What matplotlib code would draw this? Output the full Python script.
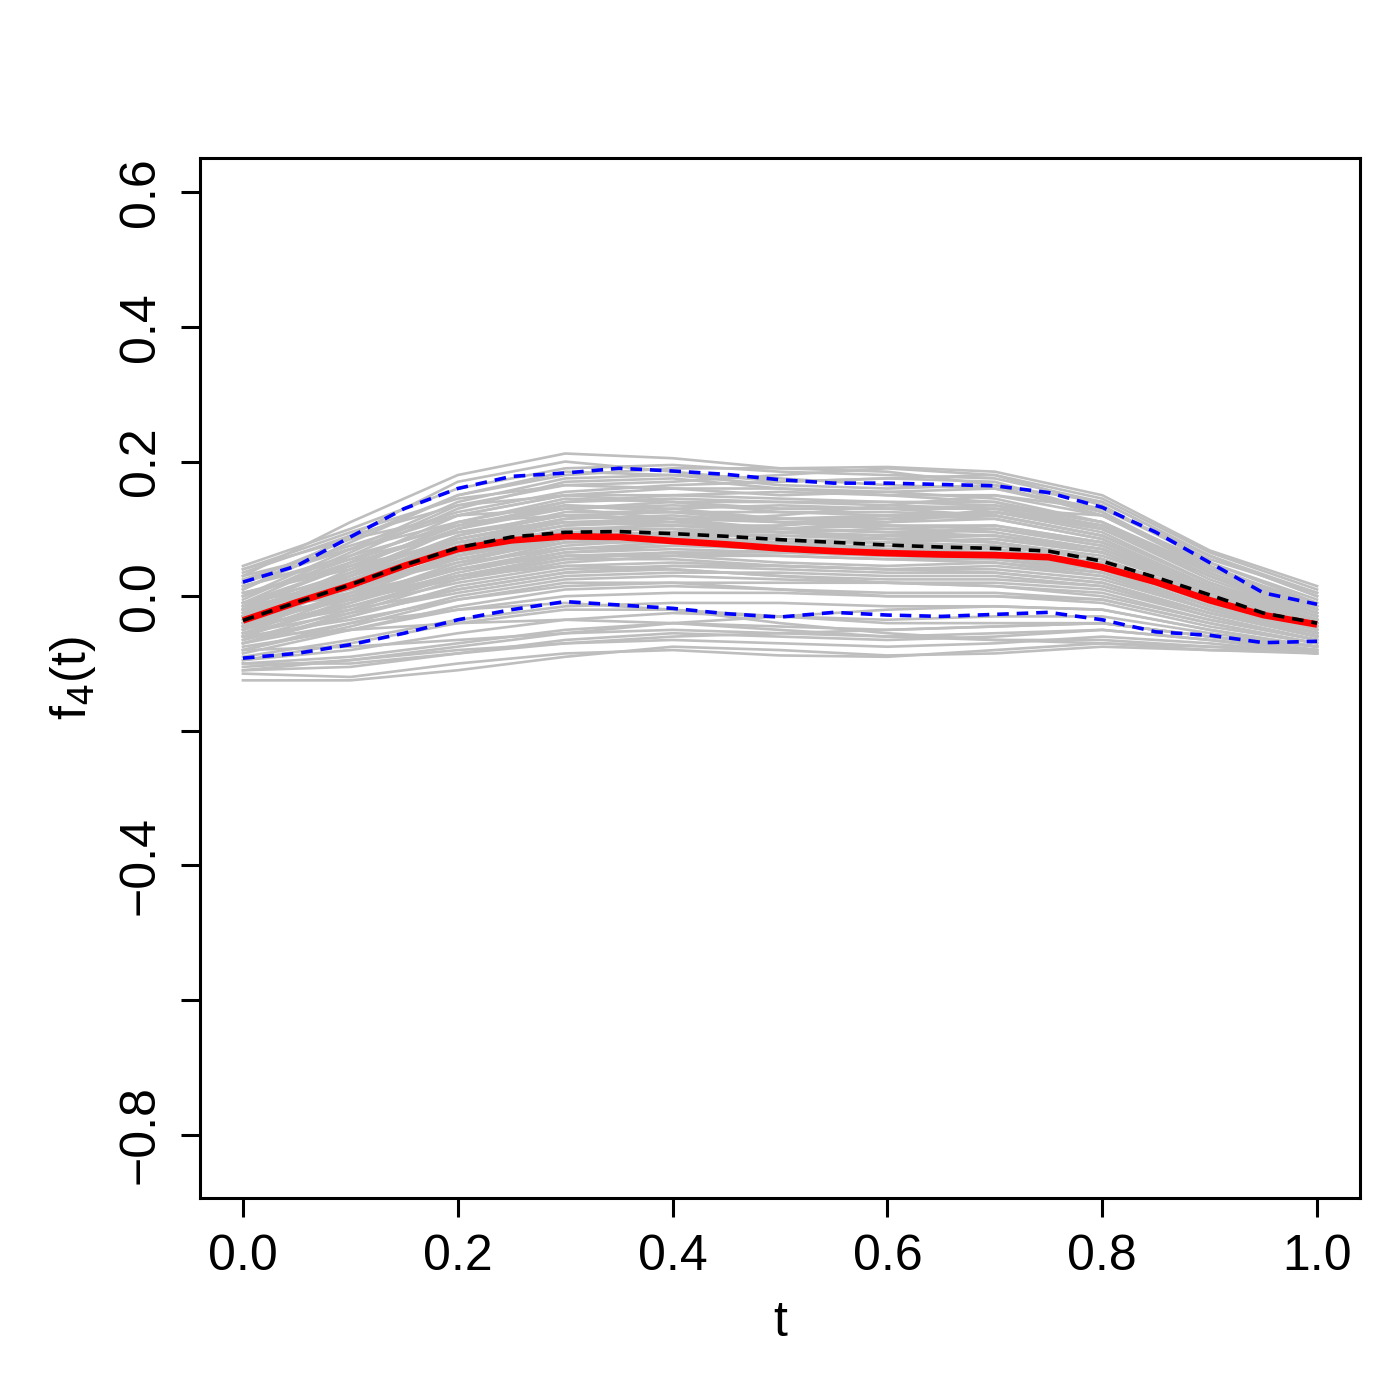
import matplotlib
matplotlib.use("Agg")
import matplotlib.pyplot as plt
import numpy as np

plt.rcParams['font.family'] = ['Liberation Sans', 'DejaVu Sans']
plt.rcParams['axes.unicode_minus'] = True

# grid for summary curves (t = 0, 0.05, ..., 1)
t_fine = [0.00, 0.05, 0.10, 0.15, 0.20, 0.25, 0.30, 0.35, 0.40, 0.45, 0.50,
          0.55, 0.60, 0.65, 0.70, 0.75, 0.80, 0.85, 0.90, 0.95, 1.00]

red_curve = [-0.036, -0.009, 0.016, 0.045, 0.070, 0.083, 0.089, 0.088, 0.082, 0.077, 0.071,
             0.067, 0.064, 0.062, 0.061, 0.058, 0.043, 0.021, -0.006, -0.028, -0.042]
black_curve = [-0.036, -0.009, 0.017, 0.046, 0.072, 0.088, 0.095, 0.096, 0.093, 0.089, 0.084,
               0.080, 0.076, 0.073, 0.071, 0.067, 0.052, 0.028, 0.002, -0.025, -0.040]
blue_upper = [0.021, 0.045, 0.088, 0.130, 0.160, 0.178, 0.183, 0.190, 0.186, 0.181, 0.173,
              0.168, 0.168, 0.166, 0.164, 0.154, 0.132, 0.095, 0.050, 0.005, -0.012]
blue_lower = [-0.092, -0.085, -0.072, -0.055, -0.035, -0.020, -0.008, -0.013, -0.018, -0.026, -0.031,
              -0.024, -0.028, -0.030, -0.027, -0.024, -0.035, -0.053, -0.058, -0.069, -0.067]

# grid for sample curves (t = 0, 0.1, ..., 1)
t_coarse = [0.0, 0.1, 0.2, 0.3, 0.4, 0.5, 0.6, 0.7, 0.8, 0.9, 1.0]

gray_curves = [
    [0.030, 0.110, 0.180, 0.212, 0.205, 0.190, 0.192, 0.185, 0.150, 0.068, 0.015],
    [0.045, 0.100, 0.160, 0.190, 0.195, 0.185, 0.180, 0.175, 0.140, 0.060, 0.000],
    [0.010, 0.090, 0.170, 0.200, 0.185, 0.170, 0.175, 0.180, 0.135, 0.050, -0.010],
    [0.020, 0.085, 0.150, 0.180, 0.190, 0.190, 0.185, 0.165, 0.120, 0.040, -0.015],
    [0.000, 0.070, 0.140, 0.175, 0.180, 0.175, 0.165, 0.160, 0.130, 0.055, 0.005],
    [0.040, 0.095, 0.145, 0.165, 0.170, 0.180, 0.190, 0.180, 0.145, 0.065, 0.010],
    [-0.010, 0.060, 0.130, 0.170, 0.175, 0.160, 0.150, 0.150, 0.120, 0.045, -0.020],
    [0.025, 0.075, 0.125, 0.155, 0.165, 0.170, 0.175, 0.170, 0.125, 0.040, -0.020],
    [-0.020, 0.050, 0.120, 0.150, 0.150, 0.145, 0.140, 0.135, 0.105, 0.030, -0.030],
    [0.000, 0.055, 0.110, 0.140, 0.150, 0.155, 0.150, 0.140, 0.100, 0.030, -0.025],
    [-0.030, 0.040, 0.110, 0.145, 0.140, 0.125, 0.120, 0.125, 0.095, 0.020, -0.035],
    [0.015, 0.060, 0.105, 0.130, 0.140, 0.140, 0.135, 0.130, 0.105, 0.035, -0.020],
    [-0.010, 0.045, 0.100, 0.130, 0.135, 0.130, 0.130, 0.130, 0.100, 0.025, -0.030],
    [-0.040, 0.030, 0.100, 0.135, 0.130, 0.115, 0.110, 0.115, 0.085, 0.015, -0.040],
    [0.005, 0.040, 0.085, 0.115, 0.130, 0.135, 0.130, 0.120, 0.090, 0.020, -0.030],
    [-0.025, 0.030, 0.090, 0.125, 0.125, 0.115, 0.115, 0.120, 0.090, 0.020, -0.035],
    [-0.015, 0.035, 0.085, 0.110, 0.115, 0.115, 0.120, 0.115, 0.085, 0.015, -0.040],
    [-0.050, 0.020, 0.090, 0.120, 0.115, 0.100, 0.095, 0.100, 0.075, 0.010, -0.045],
    [-0.035, 0.015, 0.070, 0.100, 0.105, 0.100, 0.095, 0.090, 0.065, 0.005, -0.040],
    [-0.020, 0.025, 0.070, 0.095, 0.100, 0.095, 0.090, 0.090, 0.070, 0.010, -0.035],
    [-0.045, 0.005, 0.060, 0.090, 0.095, 0.090, 0.085, 0.080, 0.055, -0.005, -0.045],
    [-0.030, 0.010, 0.055, 0.085, 0.095, 0.095, 0.090, 0.080, 0.055, 0.000, -0.040],
    [-0.055, 0.000, 0.060, 0.095, 0.090, 0.075, 0.070, 0.075, 0.055, -0.005, -0.050],
    [-0.010, 0.020, 0.055, 0.080, 0.090, 0.090, 0.085, 0.080, 0.060, 0.005, -0.040],
    [-0.040, 0.000, 0.045, 0.075, 0.085, 0.085, 0.080, 0.070, 0.045, -0.010, -0.050],
    [-0.060, -0.010, 0.045, 0.080, 0.080, 0.070, 0.065, 0.065, 0.045, -0.010, -0.050],
    [-0.025, 0.005, 0.040, 0.065, 0.075, 0.075, 0.075, 0.070, 0.050, 0.000, -0.045],
    [-0.050, -0.010, 0.035, 0.065, 0.070, 0.065, 0.060, 0.060, 0.040, -0.015, -0.055],
    [-0.035, -0.005, 0.030, 0.055, 0.065, 0.065, 0.060, 0.055, 0.035, -0.015, -0.055],
    [-0.065, -0.020, 0.030, 0.060, 0.060, 0.050, 0.045, 0.050, 0.035, -0.020, -0.060],
    [-0.045, -0.015, 0.020, 0.045, 0.050, 0.045, 0.040, 0.040, 0.025, -0.020, -0.055],
    [-0.070, -0.030, 0.015, 0.040, 0.045, 0.040, 0.035, 0.035, 0.020, -0.025, -0.060],
    [-0.055, -0.025, 0.005, 0.030, 0.035, 0.035, 0.030, 0.030, 0.015, -0.025, -0.060],
    [-0.080, -0.040, 0.000, 0.025, 0.030, 0.025, 0.020, 0.020, 0.010, -0.030, -0.065],
    [-0.060, -0.035, -0.005, 0.015, 0.020, 0.020, 0.020, 0.015, 0.000, -0.035, -0.065],
    [-0.085, -0.050, -0.015, 0.010, 0.015, 0.010, 0.005, 0.005, -0.005, -0.040, -0.070],
    [-0.075, -0.050, -0.020, 0.000, 0.005, 0.005, 0.000, 0.000, -0.010, -0.045, -0.070],
    [-0.090, -0.065, -0.035, -0.015, -0.010, -0.010, -0.015, -0.015, -0.020, -0.050, -0.075],
    [-0.095, -0.080, -0.055, -0.035, -0.025, -0.030, -0.035, -0.030, -0.030, -0.055, -0.075],
    [-0.100, -0.090, -0.070, -0.050, -0.040, -0.045, -0.050, -0.045, -0.040, -0.060, -0.080],
    [-0.110, -0.105, -0.085, -0.065, -0.055, -0.060, -0.065, -0.060, -0.050, -0.065, -0.080],
    [-0.125, -0.125, -0.110, -0.090, -0.075, -0.080, -0.088, -0.085, -0.075, -0.080, -0.083],
    [-0.115, -0.120, -0.100, -0.085, -0.080, -0.088, -0.090, -0.080, -0.070, -0.075, -0.080],
    [-0.105, -0.095, -0.080, -0.070, -0.065, -0.070, -0.075, -0.070, -0.060, -0.070, -0.085],
    [-0.080, -0.075, -0.065, -0.055, -0.050, -0.055, -0.060, -0.055, -0.050, -0.065, -0.085],
    [-0.110, -0.095, -0.075, -0.055, -0.040, -0.030, -0.020, -0.015, -0.020, -0.050, -0.075],
    [-0.070, -0.040, -0.020, -0.010, -0.020, -0.040, -0.055, -0.065, -0.070, -0.080, -0.085],
    [0.030, 0.070, 0.110, 0.120, 0.110, 0.100, 0.110, 0.130, 0.120, 0.050, -0.005],
    [-0.020, 0.030, 0.080, 0.105, 0.110, 0.120, 0.135, 0.150, 0.130, 0.060, 0.005],
    [0.040, 0.085, 0.120, 0.130, 0.115, 0.095, 0.085, 0.090, 0.070, 0.010, -0.040],
    [0.010, 0.080, 0.150, 0.185, 0.180, 0.165, 0.160, 0.165, 0.140, 0.060, 0.000],
    [-0.005, 0.065, 0.135, 0.165, 0.160, 0.150, 0.155, 0.160, 0.125, 0.045, -0.015],
    [0.020, 0.070, 0.120, 0.150, 0.160, 0.160, 0.155, 0.145, 0.110, 0.035, -0.025],
    [-0.030, 0.035, 0.100, 0.140, 0.145, 0.140, 0.140, 0.140, 0.110, 0.035, -0.025],
    [-0.015, 0.045, 0.105, 0.135, 0.125, 0.110, 0.110, 0.125, 0.100, 0.030, -0.030],
    [0.000, 0.050, 0.095, 0.120, 0.125, 0.125, 0.125, 0.120, 0.090, 0.020, -0.035],
    [-0.045, 0.020, 0.085, 0.115, 0.120, 0.110, 0.105, 0.105, 0.080, 0.010, -0.040],
    [-0.020, 0.025, 0.075, 0.105, 0.115, 0.110, 0.100, 0.095, 0.070, 0.005, -0.040],
    [-0.035, 0.020, 0.080, 0.110, 0.105, 0.095, 0.100, 0.105, 0.080, 0.015, -0.035],
    [-0.010, 0.030, 0.070, 0.090, 0.095, 0.100, 0.105, 0.100, 0.075, 0.010, -0.040],
    [-0.050, 0.005, 0.065, 0.100, 0.100, 0.085, 0.080, 0.085, 0.065, 0.000, -0.045],
    [-0.030, 0.015, 0.060, 0.085, 0.085, 0.080, 0.080, 0.085, 0.065, 0.005, -0.040],
    [-0.060, -0.005, 0.050, 0.085, 0.090, 0.080, 0.070, 0.070, 0.050, -0.005, -0.050],
    [-0.015, 0.015, 0.050, 0.070, 0.080, 0.080, 0.080, 0.075, 0.055, 0.000, -0.045],
    [-0.040, -0.005, 0.040, 0.070, 0.075, 0.070, 0.070, 0.065, 0.045, -0.010, -0.050],
    [-0.055, -0.015, 0.030, 0.060, 0.065, 0.060, 0.055, 0.055, 0.040, -0.015, -0.055],
    [-0.030, -0.005, 0.025, 0.050, 0.060, 0.060, 0.055, 0.050, 0.030, -0.020, -0.055],
    [-0.070, -0.025, 0.025, 0.055, 0.055, 0.045, 0.040, 0.045, 0.030, -0.020, -0.060],
    [-0.045, -0.020, 0.010, 0.035, 0.045, 0.045, 0.040, 0.035, 0.020, -0.025, -0.060],
    [-0.065, -0.030, 0.010, 0.035, 0.040, 0.030, 0.025, 0.025, 0.015, -0.030, -0.065],
    [0.035, 0.090, 0.135, 0.150, 0.140, 0.130, 0.130, 0.135, 0.110, 0.040, -0.015],
    [0.015, 0.055, 0.095, 0.110, 0.105, 0.105, 0.115, 0.125, 0.105, 0.040, -0.010],
    [-0.025, 0.020, 0.065, 0.085, 0.090, 0.105, 0.120, 0.125, 0.100, 0.030, -0.025],
    [-0.040, 0.000, 0.040, 0.060, 0.060, 0.070, 0.090, 0.100, 0.080, 0.015, -0.040],
    [0.005, 0.045, 0.080, 0.095, 0.085, 0.070, 0.060, 0.060, 0.045, -0.010, -0.055],
    [-0.080, -0.045, -0.005, 0.020, 0.020, 0.010, 0.000, 0.000, -0.005, -0.040, -0.070],
    [-0.095, -0.070, -0.040, -0.020, -0.020, -0.030, -0.040, -0.040, -0.040, -0.060, -0.075],
    [-0.100, -0.100, -0.085, -0.070, -0.060, -0.055, -0.050, -0.045, -0.040, -0.060, -0.080],
    [-0.060, -0.050, -0.040, -0.035, -0.040, -0.050, -0.060, -0.065, -0.065, -0.075, -0.085],
    [-0.020, 0.000, 0.030, 0.045, 0.040, 0.030, 0.020, 0.015, 0.005, -0.035, -0.065],
]

x_ticks = [0.0, 0.2, 0.4, 0.6, 0.8, 1.0]
x_tick_labels = ["0.0", "0.2", "0.4", "0.6", "0.8", "1.0"]
y_ticks = [0.6, 0.4, 0.2, 0.0, -0.2, -0.4, -0.6, -0.8]
y_tick_labels = ["0.6", "0.4", "0.2", "0.0", "", "\u22120.4", "", "\u22120.8"]

fig = plt.figure(figsize=(14, 14), dpi=100)
ax = fig.add_axes([200/1400, 1 - 1198/1400, 1160/1400, 1040/1400])

for c in gray_curves:
    ax.plot(t_coarse, c, color="#bebebe", lw=1.9, solid_joinstyle="round", zorder=1)

ax.plot(t_fine, red_curve, color="red", lw=4.8, zorder=3, solid_capstyle="butt")
ax.plot(t_fine, black_curve, color="black", lw=2.6, ls=(0, (3.2, 2.2)), zorder=4)
ax.plot(t_fine, blue_upper, color="blue", lw=2.6, ls=(0, (3.2, 2.2)), zorder=4)
ax.plot(t_fine, blue_lower, color="blue", lw=2.6, ls=(0, (3.2, 2.2)), zorder=4)

ax.set_xlim(-0.04, 1.04)
ax.set_ylim(-0.894, 0.651)

ax.set_xticks(x_ticks)
ax.set_xticklabels(x_tick_labels)
ax.set_yticks(y_ticks)
ax.set_yticklabels(y_tick_labels, rotation=90, va="center")

ax.tick_params(axis="both", length=14, width=2.2, labelsize=36, direction="out")
ax.tick_params(axis="x", pad=12)
ax.tick_params(axis="y", pad=12)
for s in ax.spines.values():
    s.set_linewidth(2.2)

ax.set_xlabel("t", fontsize=36, labelpad=14)
ax.set_ylabel("f$_4$(t)", fontsize=36, labelpad=14)

fig.savefig("out.png", dpi=100)
